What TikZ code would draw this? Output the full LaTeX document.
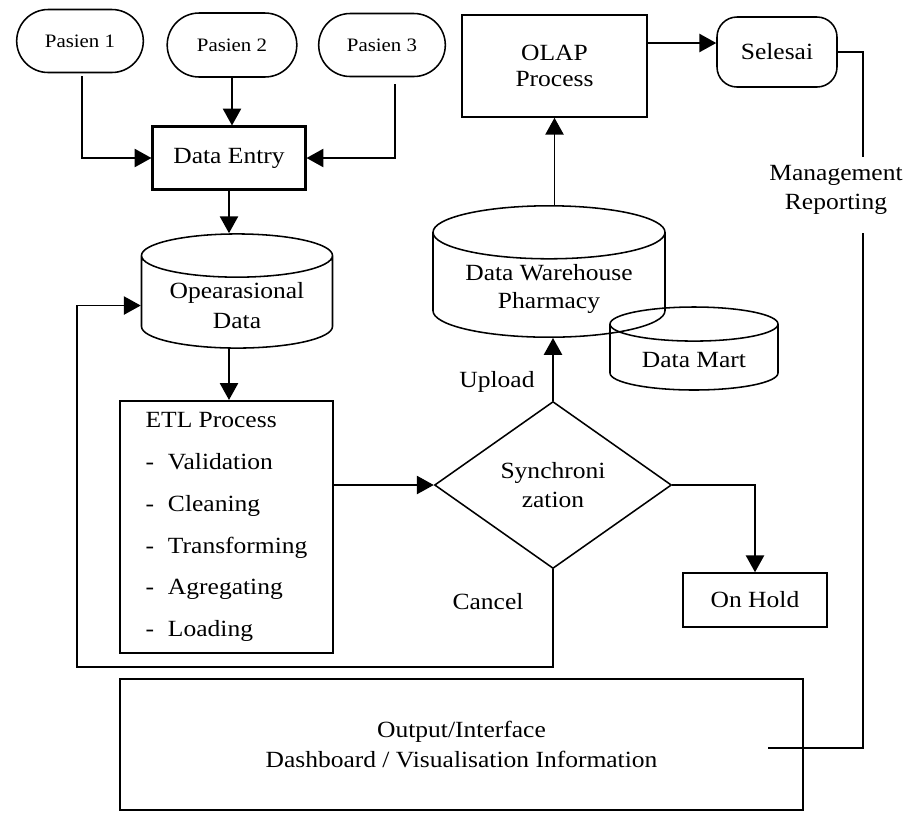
\documentclass[tikz,border=0pt]{standalone}
\usepackage{fontspec}
\setmainfont[FakeStretch=1.1]{Liberation Serif}
\usetikzlibrary{shapes.geometric, shapes.misc, arrows.meta}
\newdimen\pxu \pxu=0.025cm

\begin{document}
\begin{tikzpicture}[x=1\pxu, y=-1\pxu, line width=1.1pt,
    font=\fontsize{16.5}{19}\selectfont,
    arr/.style={-{Triangle[length=12pt,width=13pt]}},
    pasien/.style={draw, rounded rectangle, minimum width=136\pxu,
      minimum height=63\pxu, font=\fontsize{13.5}{16}\selectfont},
    proc/.style={draw, rectangle, align=center},
    db/.style={draw, cylinder, shape border rotate=90, aspect=0.3, align=center,
      anchor=shape center, font=\fontsize{16.5}{21}\selectfont}]
  \useasboundingbox (0,0) rectangle (907,812);

  % Pasien dan Data Entry
  \node[pasien] (p1) at (80,41) {Pasien 1};
  \node[pasien, minimum width=139\pxu, minimum height=64\pxu] (p2) at (232,45) {Pasien 2};
  \node[pasien] (p3) at (382,45) {Pasien 3};
  \node[proc, line width=1.5pt, minimum width=153\pxu, minimum height=63\pxu] (de) at (229,158) {Data Entry};
  \draw[arr] (p2.south) -- (p2.south |- de.north);
  \draw[arr] ([shift={(2,3)}]p1.south) |- (de.west);
  \draw[arr] ([shift={(13,7)}]p3.south) |- (de.east);

  % Data operasional dan ETL
  \node[db, minimum width=191\pxu, minimum height=112\pxu] (op) at (237,291) {Opearasional\\Data};
  \node[proc, line width=1.5pt, minimum width=213\pxu, minimum height=252\pxu, align=left,
    font=\fontsize{16.5}{29.8}\selectfont] (etl) at (226.5,527)
    {ETL Process\\-\hspace{0.6em}Validation\\-\hspace{0.6em}Cleaning\\
     -\hspace{0.6em}Transforming\\-\hspace{0.6em}Agregating\\-\hspace{0.6em}Loading};
  \draw[arr] (de.south) -- (de.south |- op.north);
  \draw[arr] (de.south |- op.south) -- (de.south |- etl.north);

  % Sinkronisasi
  \node[draw, diamond, aspect=1.42, minimum width=237\pxu, minimum height=167\pxu, inner sep=0pt,
    align=center, font=\fontsize{16.5}{21}\selectfont] (sy) at (553,485) {Synchroni\\zation};
  \node[proc, minimum width=144\pxu, minimum height=54\pxu] (oh) at (755,600) {On Hold};
  \draw[arr] (etl.east |- sy.west) -- (sy.west);
  \draw[arr] (sy.east) -| (oh.north);
  \node (cn) at (488,602) {Cancel};
  \coordinate (cb) at (77,667);
  \draw[arr] (sy.south) |- (cb) |- (op.west);

  % Data warehouse, OLAP
  \node[db, minimum width=232\pxu, minimum height=123\pxu, font=\fontsize{16.5}{20}\selectfont] (dw)
    at (549,271.5) {Data Warehouse\\Pharmacy};
  \node[db, minimum width=168\pxu, minimum height=83\pxu] (dm) at (694,348.5) {Data Mart};
  \node (up) at (497,382) {Upload};
  \draw[arr] (sy.north) -- (sy.north |- dw.south);
  \node[proc, minimum width=185\pxu, minimum height=102\pxu] (olap) at (554.5,66) {OLAP\\Process};
  \draw[arr] (dw.north -| olap.south) -- (olap.south);
  \node[draw, rounded corners=20\pxu, minimum width=120\pxu, minimum height=70\pxu] (sel) at (777,52) {Selesai};
  \draw[arr] ([yshift=9\pxu]sel.west -| olap.east) -- ([yshift=9\pxu]sel.west);

  % Output dan management reporting
  \node[proc, minimum width=683\pxu, minimum height=131\pxu, font=\fontsize{16.5}{22}\selectfont] (out)
    at (461.5,744.5) {Output/Interface\\Dashboard / Visualisation Information};
  \node[align=center, font=\fontsize{16.5}{21}\selectfont, inner sep=0pt] (mr) at (836,190) {Management\\Reporting};
  \coordinate (mtop) at (863,157);
  \coordinate (mbot) at (863,233);
  \coordinate (mrx) at (863,748);
  \coordinate (mre) at (768,748);
  \draw (sel.east) -| (mtop);
  \draw (mbot) -- (mrx) -- (mre);
\end{tikzpicture}
\end{document}
